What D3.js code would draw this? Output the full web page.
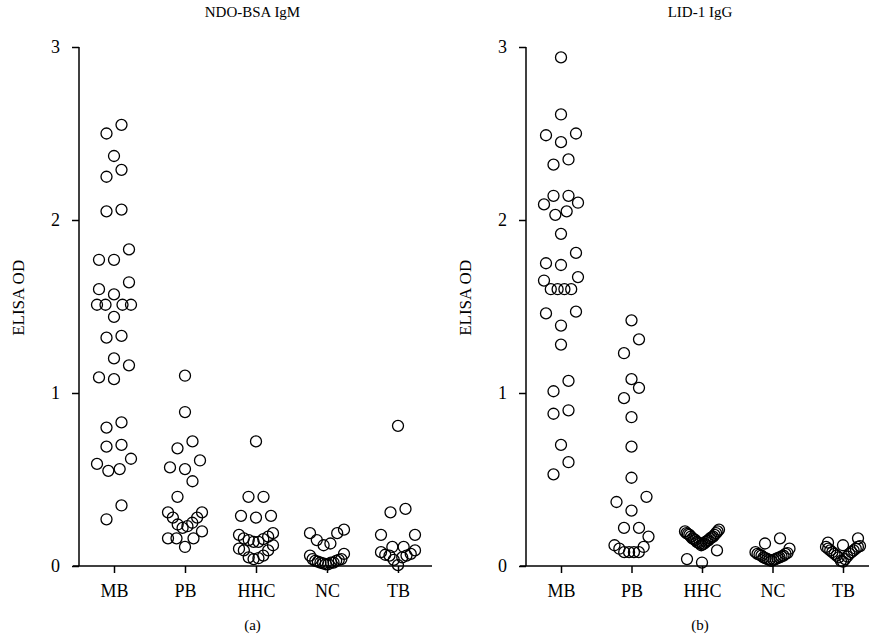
<!DOCTYPE html>
<html>
<head>
<meta charset="utf-8">
<script src="https://cdn.jsdelivr.net/npm/d3@7"></script>
<style>
  body { margin: 0; background: #fff; }
  svg, svg text { font-family: "Liberation Serif", "Times New Roman", serif; }
</style>
</head>
<body>
<div id="chart"></div>
<script>
// ELISA OD scatter, two panels (NDO-BSA IgM / LID-1 IgG)

const categories = ["MB", "PB", "HHC", "NC", "TB"];
const yTicks = [0, 1, 2, 3];

// panel (a) NDO-BSA IgM
const ndoMB = [2.55, 2.50, 2.37, 2.29, 2.25, 2.06, 2.05, 1.83, 1.77, 1.77, 1.64, 1.60, 1.57,
    1.51, 1.51, 1.51, 1.51, 1.44, 1.33, 1.32, 1.20, 1.16, 1.09, 1.08, 0.83, 0.80, 0.70, 0.69,
    0.62, 0.59, 0.56, 0.55, 0.35, 0.27];
const ndoPB = [1.10, 0.89, 0.72, 0.68, 0.61, 0.57, 0.56, 0.49, 0.40, 0.31, 0.31, 0.28, 0.28,
    0.25, 0.24, 0.23, 0.22, 0.20, 0.16, 0.16, 0.16, 0.11];
const ndoHHC = [0.72, 0.40, 0.40, 0.29, 0.29, 0.28, 0.19, 0.18, 0.17, 0.16, 0.155, 0.15, 0.14,
    0.14, 0.12, 0.10, 0.09, 0.09, 0.06, 0.05, 0.045, 0.04];
const ndoNC = [0.21, 0.19, 0.19, 0.15, 0.13, 0.12, 0.07, 0.06, 0.04, 0.04, 0.035, 0.03, 0.03,
    0.025, 0.02, 0.02, 0.02, 0.015, 0.01, 0.01];
const ndoTB = [0.81, 0.33, 0.31, 0.18, 0.18, 0.11, 0.11, 0.09, 0.08, 0.07, 0.065, 0.06, 0.06,
    0.05, 0.035, 0.005];

// panel (b) LID-1 IgG
const lidMB = [2.94, 2.61, 2.50, 2.49, 2.45, 2.35, 2.32, 2.14, 2.14, 2.10, 2.09, 2.05, 2.03,
    1.92, 1.81, 1.75, 1.74, 1.67, 1.65, 1.60, 1.60, 1.60, 1.60, 1.47, 1.46, 1.39, 1.28, 1.07,
    1.01, 0.90, 0.88, 0.70, 0.60, 0.53];
const lidPB = [1.42, 1.31, 1.23, 1.08, 1.03, 0.97, 0.86, 0.69, 0.51, 0.40, 0.37, 0.32, 0.22,
    0.22, 0.17, 0.12, 0.11, 0.10, 0.08, 0.08, 0.08, 0.08];
const lidHHC = [0.21, 0.20, 0.20, 0.19, 0.19, 0.185, 0.18, 0.18, 0.17, 0.17, 0.165, 0.16, 0.16,
    0.155, 0.15, 0.15, 0.145, 0.14, 0.14, 0.135, 0.13, 0.13, 0.125, 0.12, 0.09, 0.04, 0.02];
const lidNC = [0.16, 0.13, 0.10, 0.08, 0.075, 0.07, 0.07, 0.065, 0.06, 0.06, 0.055, 0.05, 0.05,
    0.045, 0.045, 0.04, 0.04, 0.035, 0.035, 0.03];
const lidTB = [0.16, 0.135, 0.12, 0.115, 0.11, 0.11, 0.10, 0.10, 0.09, 0.09, 0.08, 0.08, 0.07,
    0.07, 0.06, 0.055, 0.05, 0.04, 0.03, 0.025];

const panels = [
    { title: "NDO-BSA IgM", tag: "(a)", axisX: 79, first: 114, last: 398, lineEnd: 432,
      groups: [ndoMB, ndoPB, ndoHHC, ndoNC, ndoTB] },
    { title: "LID-1 IgG", tag: "(b)", axisX: 526, first: 561, last: 843, lineEnd: 880,
      groups: [lidMB, lidPB, lidHHC, lidNC, lidTB] }
];

const width = 869, height = 644;
const R = 5.5;          // symbol radius
const ROW_H = 16;       // px band that counts as one row
const STEP = 15;        // normal spacing inside a row
const MAX_OFF = 17;     // max half-width of a column
const FONT = "'Liberation Serif', 'Times New Roman', serif";

const svg = d3.select("#chart").append("svg")
    .attr("width", width)
    .attr("height", height);

const y = d3.scaleLinear().domain([0, 3]).range([566, 47]);

// column scatter: bin into rows, lowest value in the middle, spread outward
function columnLayout(vals, cx) {
    const sorted = vals.slice().sort((a, b) => a - b);
    const out = [];
    let i = 0;
    while (i < sorted.length) {
        const start = y(sorted[i]);
        const row = [];
        while (i < sorted.length && start - y(sorted[i]) < ROW_H) {
            row.push(sorted[i]);
            i++;
        }
        const n = row.length;
        const step = n > 1 ? Math.min(STEP, 2 * MAX_OFF / (n - 1)) : 0;
        const slots = [];
        if (n % 2) {
            slots.push(0);
            for (let k = 1; k <= (n - 1) / 2; k++) slots.push(-k * step, k * step);
        } else {
            for (let k = 0; k < n / 2; k++) slots.push(-(k + 0.5) * step, (k + 0.5) * step);
        }
        row.forEach((v, j) => out.push({ v: v, x: cx + slots[j], y: y(v) }));
    }
    return out;
}

panels.forEach(p => {
    const x = d3.scalePoint().domain(categories).range([p.first, p.last]);
    const mid = (p.axisX + p.lineEnd) / 2 - 3;

    // y axis
    const yAxis = d3.axisLeft(y).tickValues(yTicks).tickFormat(d3.format("d"))
        .tickSize(7).tickPadding(12);
    const ga = svg.append("g")
        .attr("transform", `translate(${p.axisX},0)`)
        .call(yAxis)
        .attr("font-family", FONT)
        .attr("font-size", 18);
    ga.select(".domain").attr("d", `M0,${y(3)}V${y(0)}`);
    ga.selectAll("line, path").attr("stroke", "#000").attr("stroke-width", 1.5);
    ga.selectAll("text").attr("fill", "#000");

    // x axis
    const xAxis = d3.axisBottom(x).tickSize(7).tickPadding(11);
    const gx = svg.append("g")
        .attr("transform", `translate(0,${y(0)})`)
        .call(xAxis)
        .attr("font-family", FONT)
        .attr("font-size", 18);
    gx.select(".domain").attr("d", `M${p.axisX - 6},0H${p.lineEnd}`);
    gx.selectAll("line, path").attr("stroke", "#000").attr("stroke-width", 1.5);
    gx.selectAll("text").attr("fill", "#000");

    // points
    p.groups.forEach((vals, gi) => {
        const pts = columnLayout(vals, x(categories[gi]));
        svg.append("g").selectAll("circle")
            .data(pts)
            .enter()
            .append("circle")
            .attr("cx", d => d.x)
            .attr("cy", d => d.y)
            .attr("r", R)
            .attr("fill", "none")
            .attr("stroke", "#000")
            .attr("stroke-width", 1.3);
    });

    // titles and labels
    svg.append("text")
        .attr("x", mid)
        .attr("y", 17)
        .attr("text-anchor", "middle")
        .style("font-size", "15px")
        .text(p.title);

    svg.append("text")
        .attr("transform", `translate(${p.axisX - 55},${y(1.55)}) rotate(-90)`)
        .attr("text-anchor", "middle")
        .style("font-size", "17px")
        .text("ELISA OD");

    svg.append("text")
        .attr("x", mid)
        .attr("y", 630)
        .attr("text-anchor", "middle")
        .style("font-size", "15px")
        .text(p.tag);
});
</script>
</body>
</html>
